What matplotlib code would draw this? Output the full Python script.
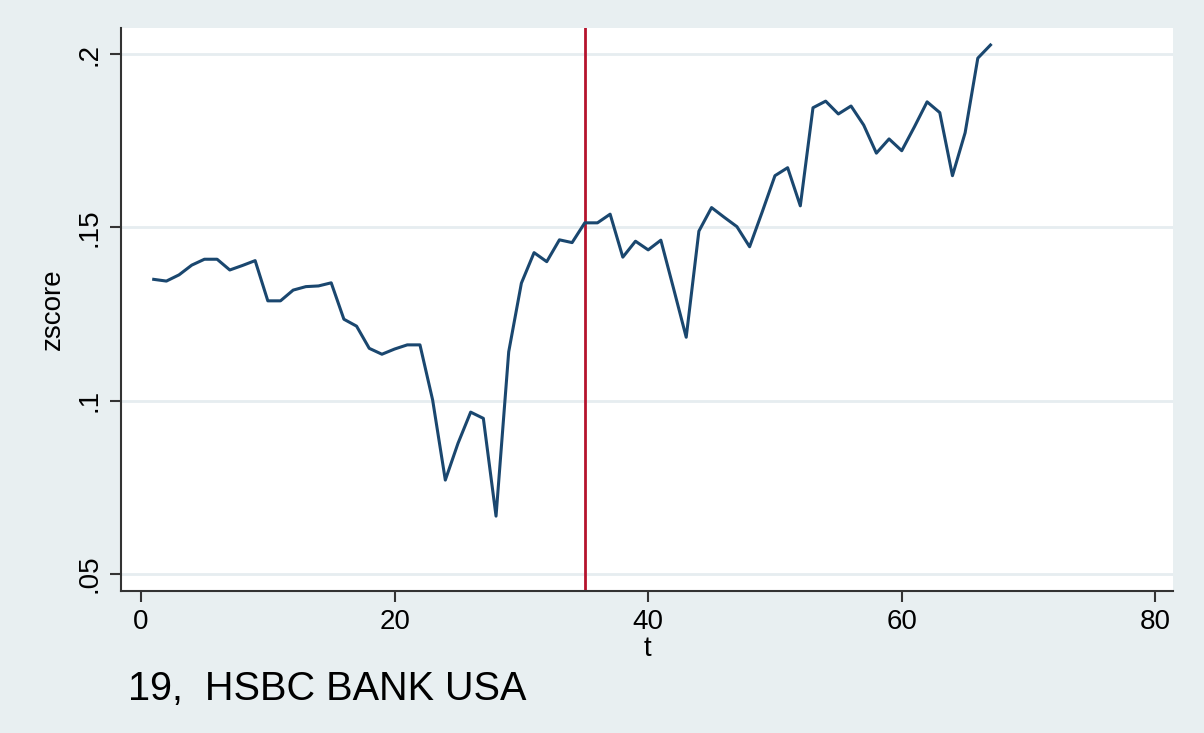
import numpy as np
import matplotlib
matplotlib.use("Agg")
import matplotlib.pyplot as plt

# zscore series for bank 19, periods t = 1..67
t = np.arange(1, 68)
zscore = [
    0.1350, 0.1345, 0.1363, 0.1391, 0.1408, 0.1408, 0.1377, 0.1390, 0.1404, 0.1288,
    0.1288, 0.1319, 0.1329, 0.1331, 0.1340, 0.1235, 0.1215, 0.1151, 0.1134, 0.1149,
    0.1161, 0.1161, 0.1002, 0.0771, 0.0877, 0.0967, 0.0949, 0.0667, 0.1141, 0.1339,
    0.1427, 0.1401, 0.1464, 0.1456, 0.1513, 0.1513, 0.1538, 0.1414, 0.1460, 0.1435,
    0.1463, 0.1324, 0.1183, 0.1489, 0.1557, 0.1529, 0.1502, 0.1444, 0.1545, 0.1649,
    0.1672, 0.1562, 0.1845, 0.1864, 0.1827, 0.1850, 0.1795, 0.1714, 0.1755, 0.1721,
    0.1790, 0.1862, 0.1831, 0.1649, 0.1773, 0.1988, 0.2026,
]
break_t = 35
bank_name = "19,  HSBC BANK USA"

xticks = [0, 20, 40, 60, 80]
yticks = [0.05, 0.10, 0.15, 0.20]
ytick_labels = [".05", ".1", ".15", ".2"]

plt.rcParams['font.family'] = ['Liberation Sans', 'DejaVu Sans']

bg = "#e8eff1"
fig = plt.figure(figsize=(12.04, 7.33), dpi=100, facecolor=bg)
ax = fig.add_axes([0.1005, 0.1937, 0.8738, 0.7681])
ax.set_facecolor("white")

for y in yticks:
    ax.axhline(y, color="#e6edf0", lw=2, zorder=1)

ax.plot(t, zscore, color="#1a476f", lw=2.2, zorder=3)
ax.axvline(break_t, color="#b5132d", lw=2, zorder=2)

ax.set_xlim(-1.58, 81.4)
ax.set_ylim(0.0451, 0.2075)
ax.set_xticks(xticks)
ax.set_yticks(yticks)
ax.set_yticklabels(ytick_labels, rotation=90, va="center")

for side in ["top", "right"]:
    ax.spines[side].set_visible(False)
for side in ["left", "bottom"]:
    ax.spines[side].set_color("#333333")
    ax.spines[side].set_linewidth(1.5)

ax.tick_params(axis="both", direction="out", length=8, width=1.5,
               color="#333333", labelsize=20, pad=5)

ax.set_xlabel("t", fontsize=20, labelpad=1)
ax.set_ylabel("zscore", fontsize=20, labelpad=8)

fig.text(0.106, 0.060, bank_name, fontsize=28.5, ha="left", va="center")

plt.savefig("out.png", dpi=100, facecolor=bg)
plt.close(fig)
